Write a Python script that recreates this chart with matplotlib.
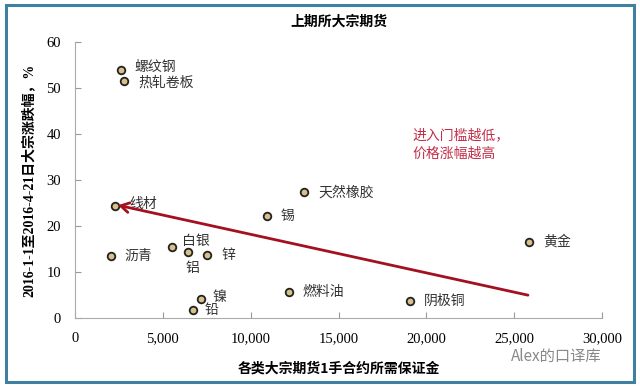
import matplotlib
matplotlib.use("Agg")
import matplotlib.pyplot as plt
from matplotlib.patches import Rectangle

plt.rcParams['font.family'] = ['Noto Sans CJK SC', 'DejaVu Sans']

# margin needed per 1 lot (yuan), price change 2016-1-1 to 2016-4-21 (%)
names = ['螺纹钢', '热轧卷板', '线材', '沥青', '白银', '铝', '锌', '镍', '铅',
         '锡', '天然橡胶', '燃料油', '阴极铜', '黄金']
margin = [2620, 2790, 2280, 2030, 5520, 6410, 7530, 7170, 6700,
          10910, 13050, 12160, 19070, 25860]
change = [54.0, 51.6, 24.4, 13.5, 15.6, 14.5, 13.7, 4.2, 1.9,
          22.3, 27.4, 5.7, 3.8, 16.6]
# label offsets in pixels (dx, dy)
offsets = [(14, 3), (14, -2), (14, 2), (14, 0), (10, 6), (-2, -16), (14, 0), (12, 2),
           (12, 0), (14, 0), (14, 0), (14, 0), (14, 0), (14, 0)]

arrow_start = (25930, 4.9)
arrow_end = (2300, 24.7)

xticks = [0, 5000, 10000, 15000, 20000, 25000, 30000]
yticks = [0, 10, 20, 30, 40, 50, 60]

fig = plt.figure(figsize=(6.4, 3.87), dpi=100)
fig.patches.append(Rectangle((0.009, 0.014), 0.981, 0.972, transform=fig.transFigure,
                             fill=False, edgecolor='#3f7f9f', linewidth=2.2))
ax = fig.add_axes([0.117, 0.1775, 0.824, 0.7135])

ax.scatter(margin, change, s=30, facecolor='#d8c089', edgecolor='#222222', linewidth=1.3, zorder=3)
for n, x, y, (dx, dy) in zip(names, margin, change, offsets):
    ax.annotate(n, (x, y), xytext=(dx, dy), textcoords='offset pixels',
                ha='left', va='center', fontsize=10, color='#333333')

ax.annotate('', xy=arrow_end, xytext=arrow_start,
            arrowprops=dict(arrowstyle='->,head_length=0.6,head_width=0.35',
                            color='#a3101f', lw=2))

ax.text(19200, 37.7, '进入门槛越低，\n价格涨幅越高', color='#c0304a', fontsize=10,
        ha='left', va='center', linespacing=1.4)

ax.set_xlim(0, 30000)
ax.set_ylim(0, 60)
ax.set_xticks(xticks)
ax.set_yticks(yticks)
ax.set_xticklabels([f'{v:,}' for v in xticks], family='Liberation Serif', fontsize=10.5)
ax.set_yticklabels([str(v) for v in yticks], family='Liberation Serif', fontsize=10.5)
ax.tick_params(direction='in', length=4, color='#999999', pad=10)
for s in ['top', 'right']:
    ax.spines[s].set_visible(False)
for s in ['left', 'bottom']:
    ax.spines[s].set_color('#aaaaaa')

ax.set_title('上期所大宗期货', fontsize=10, fontweight='bold', pad=12)
ax.set_xlabel('各类大宗期货1手合约所需保证金', fontsize=10, fontweight='bold', labelpad=12)
ax.set_ylabel('2016-1-1至2016-4-21日大宗涨跌幅，%', fontsize=10, fontweight='bold',
              family=['Liberation Serif', 'Noto Sans CJK SC'], labelpad=8)

fig.text(0.94, 0.08, 'Alex的口译库', color='#888888', fontsize=11, ha='right', va='center')

fig.savefig('out.png', dpi=100)
